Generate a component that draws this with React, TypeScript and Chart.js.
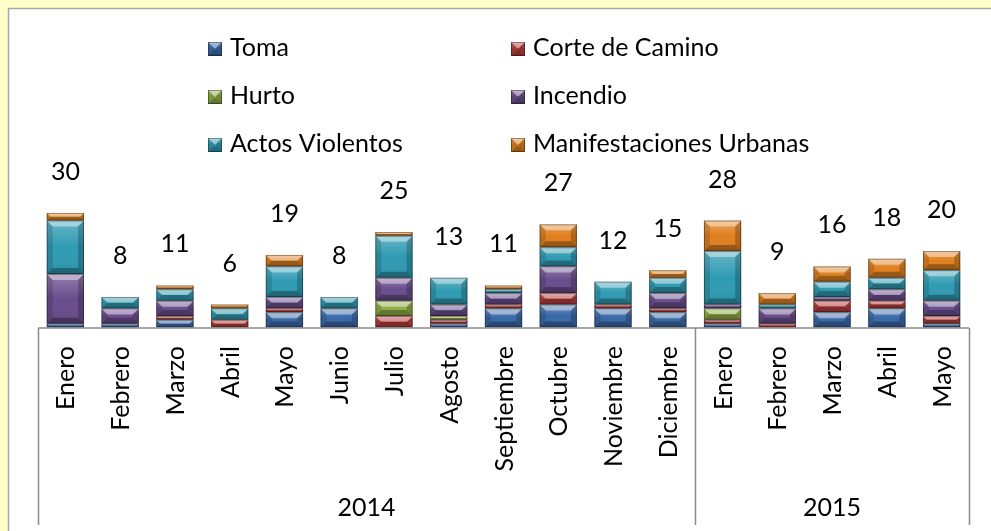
import { useEffect, useRef } from 'react';
import { Chart, registerables } from 'chart.js';

Chart.register(...registerables);

const months = ['Enero', 'Febrero', 'Marzo', 'Abril', 'Mayo', 'Junio', 'Julio', 'Agosto', 'Septiembre', 'Octubre', 'Noviembre', 'Diciembre', 'Enero', 'Febrero', 'Marzo', 'Abril', 'Mayo'];
const years = ['2014', '2015'];
const monthsPerYear = [12, 5];

const seriesNames = ['Toma', 'Corte de Camino', 'Hurto', 'Incendio', 'Actos Violentos', 'Manifestaciones Urbanas'];
const toma = [1, 1, 2, 0, 4, 5, 0, 1, 5, 6, 5, 4, 1, 0, 4, 5, 1];
const corteDeCamino = [0, 0, 1, 2, 1, 0, 3, 1, 1, 3, 1, 1, 1, 1, 3, 2, 2];
const hurto = [0, 0, 0, 0, 0, 0, 4, 1, 0, 0, 0, 0, 3, 0, 0, 0, 0];
const incendio = [13, 4, 4, 0, 3, 0, 6, 3, 3, 7, 0, 4, 1, 4, 1, 3, 4];
const actosViolentos = [14, 3, 3, 3, 8, 3, 11, 7, 1, 5, 6, 4, 14, 1, 4, 3, 8];
const manifestaciones = [2, 0, 1, 1, 3, 0, 1, 0, 1, 6, 0, 2, 8, 3, 4, 5, 5];
const seriesValues = [toma, corteDeCamino, hurto, incendio, actosViolentos, manifestaciones];
const seriesColors = ['#3869a8', '#b73c3a', '#8fae45', '#6a4d8d', '#2f9bb3', '#e0801f'];

const FONT = 'Lato, "Open Sans", sans-serif';

function bevel(ctx: CanvasRenderingContext2D, L: number, T: number, R: number, B: number) {
  const h = B - T;
  const w = R - L;
  if (h < 0.8 || w < 1) return;
  const d = Math.min(6, h / 2, w / 2);
  ctx.save();
  // inner highlight gradient
  const g = ctx.createLinearGradient(0, T, 0, B);
  g.addColorStop(0, 'rgba(255,255,255,0.28)');
  g.addColorStop(0.5, 'rgba(255,255,255,0.0)');
  g.addColorStop(1, 'rgba(0,0,0,0.08)');
  ctx.fillStyle = g;
  ctx.fillRect(L, T, w, h);
  const poly = (pts: number[][], fill: string) => {
    ctx.beginPath();
    ctx.moveTo(pts[0][0], pts[0][1]);
    for (let i = 1; i < pts.length; i++) ctx.lineTo(pts[i][0], pts[i][1]);
    ctx.closePath();
    ctx.fillStyle = fill;
    ctx.fill();
  };
  poly([[L, T], [R, T], [R - d, T + d], [L + d, T + d]], 'rgba(255,255,255,0.42)');
  poly([[L, B], [R, B], [R - d, B - d], [L + d, B - d]], 'rgba(0,0,0,0.30)');
  poly([[L, T], [L + d, T + d], [L + d, B - d], [L, B]], 'rgba(0,0,0,0.14)');
  poly([[R, T], [R - d, T + d], [R - d, B - d], [R, B]], 'rgba(0,0,0,0.22)');
  ctx.strokeStyle = 'rgba(0,0,0,0.35)';
  ctx.lineWidth = 1;
  ctx.strokeRect(L + 0.5, T + 0.5, w - 1, h - 1);
  ctx.restore();
}

const decorPlugin = {
  id: 'decor',
  beforeDraw(chart: any) {
    const ctx = chart.ctx as CanvasRenderingContext2D;
    const W = chart.width;
    const H = chart.height;
    ctx.save();
    ctx.fillStyle = '#ffffc9';
    ctx.fillRect(0, 0, W, H);
    ctx.fillStyle = '#ffffff';
    ctx.fillRect(8, 8, W - 8, H - 8);
    ctx.strokeStyle = '#a6a6a6';
    ctx.lineWidth = 1.5;
    ctx.beginPath();
    ctx.moveTo(8.5, H);
    ctx.lineTo(8.5, 8.5);
    ctx.lineTo(W, 8.5);
    ctx.stroke();
    ctx.restore();
  },
  afterDatasetsDraw(chart: any) {
    const ctx = chart.ctx as CanvasRenderingContext2D;
    chart.data.datasets.forEach((_ds: any, di: number) => {
      const meta = chart.getDatasetMeta(di);
      meta.data.forEach((el: any) => {
        const p = el.getProps(['x', 'y', 'base', 'width'], true);
        const L = p.x - p.width / 2;
        const R = p.x + p.width / 2;
        const T = Math.min(p.y, p.base);
        const B = Math.max(p.y, p.base);
        bevel(ctx, L, T, R, B);
      });
    });
  },
  afterDraw(chart: any) {
    const ctx = chart.ctx as CanvasRenderingContext2D;
    const xs = chart.scales.x;
    const ys = chart.scales.y;
    const area = chart.chartArea;
    const n = months.length;
    const catW = (area.right - area.left) / n;
    const axisY = area.bottom + 0.5;
    const axisBottom = 525;

    ctx.save();
    // axis lines
    ctx.strokeStyle = '#8a8a8a';
    ctx.lineWidth = 1.5;
    ctx.beginPath();
    ctx.moveTo(area.left, axisY);
    ctx.lineTo(area.right, axisY);
    let idx = 0;
    const bounds = [0];
    monthsPerYear.forEach((c) => { idx += c; bounds.push(idx); });
    bounds.forEach((b) => {
      const x = Math.round(area.left + b * catW) + 0.5;
      ctx.moveTo(x, axisY);
      ctx.lineTo(x, axisBottom);
    });
    ctx.stroke();

    // month labels
    ctx.fillStyle = '#000000';
    ctx.font = `25px ${FONT}`;
    months.forEach((m, i) => {
      const xc = xs.getPixelForValue(i);
      ctx.save();
      ctx.translate(xc + 9, 346);
      ctx.rotate(-Math.PI / 2);
      ctx.textAlign = 'right';
      ctx.textBaseline = 'alphabetic';
      ctx.fillText(m, 0, 0);
      ctx.restore();
    });

    // year labels
    ctx.textAlign = 'center';
    ctx.textBaseline = 'alphabetic';
    years.forEach((yr, k) => {
      const x0 = area.left + bounds[k] * catW;
      const x1 = area.left + bounds[k + 1] * catW;
      ctx.fillText(yr, (x0 + x1) / 2, 516);
    });

    // totals
    months.forEach((_m, i) => {
      const total = seriesValues.reduce((s, arr) => s + arr[i], 0);
      const xc = xs.getPixelForValue(i);
      const yTop = ys.getPixelForValue(total);
      ctx.fillText(String(total), xc, yTop - 33);
    });

    // legend (2 columns)
    const colMarkerX = [208, 511];
    const rowBase = [56, 104, 152];
    ctx.textAlign = 'left';
    seriesNames.forEach((name, i) => {
      const col = i % 2;
      const row = Math.floor(i / 2);
      const mx = colMarkerX[col];
      const by = rowBase[row];
      ctx.fillStyle = seriesColors[i];
      ctx.fillRect(mx, by - 14, 14, 14);
      bevel(ctx, mx, by - 14, mx + 14, by);
      ctx.fillStyle = '#000000';
      ctx.fillText(name, mx + 22, by);
    });
    ctx.restore();
  },
};

export default function App() {
  const canvasRef = useRef<HTMLCanvasElement | null>(null);

  useEffect(() => {
    const canvas = canvasRef.current;
    if (!canvas) return;
    const chart = new Chart(canvas, {
      type: 'bar',
      data: {
        labels: months,
        datasets: seriesNames.map((name, i) => ({
          label: name,
          data: seriesValues[i],
          backgroundColor: seriesColors[i],
          borderWidth: 0,
          barPercentage: 0.68,
          categoryPercentage: 1,
        })),
      },
      options: {
        responsive: false,
        animation: false,
        devicePixelRatio: 1,
        layout: { padding: { left: 38, right: 22, top: 21.9, bottom: 203.5 } },
        scales: {
          x: { stacked: true, display: false },
          y: { stacked: true, display: false, min: 0, max: 80 },
        },
        plugins: {
          legend: { display: false },
          tooltip: { enabled: false },
        },
      },
      plugins: [decorPlugin],
    });
    return () => chart.destroy();
  }, []);

  return (
    <div style={{ position: 'absolute', left: 0, top: 0, width: 991, height: 531 }}>
      <canvas ref={canvasRef} width={991} height={531} style={{ display: 'block', width: 991, height: 531 }} />
    </div>
  );
}
